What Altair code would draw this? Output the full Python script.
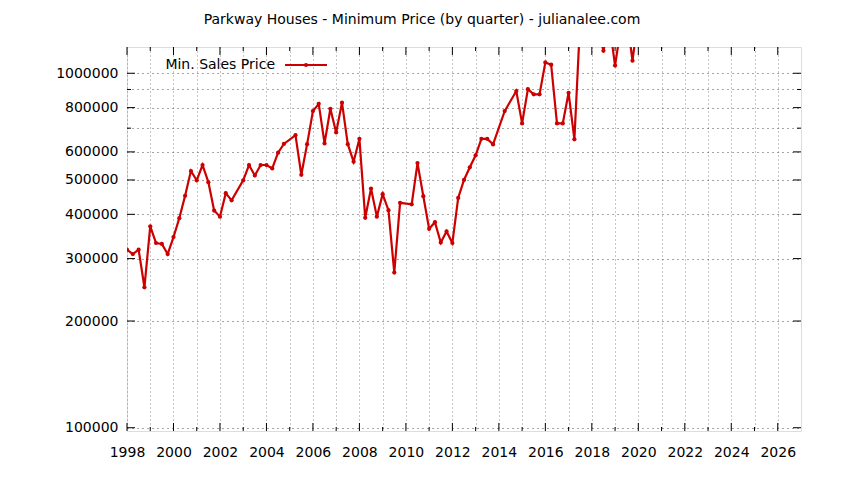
import altair as alt
import pandas as pd

# Quarterly minimum prices
years = [
    1998.0, 1998.25, 1998.5, 1998.75, 1999.0, 1999.25, 1999.5, 1999.75,
    2000.0, 2000.25, 2000.5, 2000.75, 2001.0, 2001.25, 2001.5, 2001.75,
    2002.0, 2002.25, 2002.5, 2003.0, 2003.25, 2003.5, 2003.75,
    2004.0, 2004.25, 2004.5, 2004.75, 2005.25, 2005.5, 2005.75,
    2006.0, 2006.25, 2006.5, 2006.75, 2007.0, 2007.25, 2007.5, 2007.75,
    2008.0, 2008.25, 2008.5, 2008.75, 2009.0, 2009.25, 2009.5, 2009.75,
    2010.25, 2010.5, 2010.75, 2011.0, 2011.25, 2011.5, 2011.75,
    2012.0, 2012.25, 2012.5, 2012.75, 2013.0, 2013.25, 2013.5, 2013.75,
    2014.25, 2014.75, 2015.0, 2015.25, 2015.5, 2015.75,
    2016.0, 2016.25, 2016.5, 2016.75, 2017.0, 2017.25, 2017.5, 2017.75,
    2018.0, 2018.25, 2018.5, 2018.75, 2019.0, 2019.25, 2019.5, 2019.75,
    2020.0,
]
prices = [
    318000, 309000, 318000, 249000, 370000, 332000, 330000, 309000,
    345000, 390000, 451000, 530000, 499000, 551000, 493000, 410000,
    394000, 459000, 438000, 499000, 551000, 515000, 551000,
    551000, 539000, 597000, 632000, 669000, 517000, 631000,
    782000, 820000, 634000, 794000, 681000, 826000, 631000, 563000,
    653000, 391000, 473000, 394000, 456000, 411000, 274000, 431000,
    427000, 558000, 450000, 364000, 380000, 333000, 358000,
    332000, 445000, 500000, 543000, 587000, 653000, 653000, 630000,
    782000, 891000, 722000, 902000, 872000, 872000,
    1073000, 1057000, 722000, 722000, 881000, 651000, 1416000, 1400000,
    1380000, 1350000, 1157000, 1390000, 1051000, 1350000, 1450000, 1085000,
    1450000,
]

x_grid_years = list(range(1998, 2027))
x_major_years = list(range(1998, 2027, 2))
x_minor_years = list(range(1999, 2027, 2))
y_grid_values = [100000, 200000, 300000, 400000, 500000, 600000, 700000, 800000, 900000, 1000000]
y_major_values = [100000, 200000, 300000, 400000, 500000, 600000, 800000, 1000000]
y_minor_values = [700000, 900000]

title_text = "Parkway Houses - Minimum Price (by quarter) - julianalee.com"
legend_text = "Min. Sales Price"

FONT = "DejaVu Sans"
RED = "#cc0000"
W, H = 674, 384

df = pd.DataFrame({"year": years, "price": prices})

xs = alt.Scale(domain=[1998, 2027], nice=False, zero=False)
ys = alt.Scale(type="log", domain=[97900, 1186000], nice=False)

x_axis = alt.Axis(
    values=x_grid_years, format="d", title=None,
    labelExpr="datum.value % 2 == 0 ? datum.label : ''",
    labelOverlap=False, labelFlush=False, labelBound=False,
    grid=True, gridColor="#8a8a8a", gridDash=[1, 3], gridWidth=1,
    ticks=False, tickSize=0, domain=False, labelPadding=14,
    labelFont=FONT, labelFontSize=14, labelColor="#000",
)
y_axis = alt.Axis(
    values=y_grid_values, format="d", title=None,
    labelExpr="(datum.value == 700000 || datum.value == 900000) ? '' : datum.label",
    labelOverlap=False, labelFlush=False, labelBound=False,
    grid=True, gridColor="#4a4a4a", gridDash=[1, 4], gridWidth=1,
    ticks=False, tickSize=0, domain=False, labelPadding=9,
    labelFont=FONT, labelFontSize=14, labelColor="#000",
)

X = alt.X("year:Q", scale=xs, axis=x_axis)
Y = alt.Y("price:Q", scale=ys, axis=y_axis)

base = alt.Chart(df)
line = base.mark_line(clip=True, color=RED, strokeWidth=2.2).encode(x=X, y=Y)
pts = base.mark_circle(clip=True, color=RED, size=18, opacity=1).encode(x=X, y=Y)

xmaj = pd.DataFrame({"year": x_major_years})
xmin = pd.DataFrame({"year": x_minor_years})
ymaj = pd.DataFrame({"price": y_major_values})
ymin = pd.DataFrame({"price": y_minor_values})

tick_color = "#000"
ticks = [
    alt.Chart(xmaj).mark_rule(color=tick_color).encode(x=X, y=alt.value(H), y2=alt.value(H - 8)),
    alt.Chart(xmaj).mark_rule(color=tick_color).encode(x=X, y=alt.value(0), y2=alt.value(8)),
    alt.Chart(xmin).mark_rule(color=tick_color).encode(x=X, y=alt.value(H), y2=alt.value(H - 4)),
    alt.Chart(xmin).mark_rule(color=tick_color).encode(x=X, y=alt.value(0), y2=alt.value(4)),
    alt.Chart(ymaj).mark_rule(color=tick_color).encode(y=Y, x=alt.value(0), x2=alt.value(8)),
    alt.Chart(ymaj).mark_rule(color=tick_color).encode(y=Y, x=alt.value(W), x2=alt.value(W - 8)),
    alt.Chart(ymin).mark_rule(color=tick_color).encode(y=Y, x=alt.value(0), x2=alt.value(4)),
    alt.Chart(ymin).mark_rule(color=tick_color).encode(y=Y, x=alt.value(W), x2=alt.value(W - 4)),
]

leg_df = pd.DataFrame({"label": [legend_text]})
leg_text = alt.Chart(leg_df).mark_text(
    align="right", baseline="middle", font=FONT, fontSize=14, color="#000"
).encode(x=alt.value(148), y=alt.value(18), text="label:N")
leg_line = alt.Chart(leg_df).mark_rule(color=RED, strokeWidth=2.2).encode(
    x=alt.value(158), x2=alt.value(200), y=alt.value(18))
leg_pt = alt.Chart(leg_df).mark_circle(color=RED, size=18, opacity=1).encode(
    x=alt.value(179), y=alt.value(18))

chart = alt.layer(*ticks, line, pts, leg_line, leg_pt, leg_text).properties(
    width=W, height=H,
    title=alt.TitleParams(title_text, font=FONT, fontSize=14, fontWeight="normal",
                          color="#000", anchor="middle", dx=-42, offset=20),
    autosize=alt.AutoSizeParams(type="none"),
    padding={"left": 119, "top": 39, "right": 35, "bottom": 41},
).configure_view(stroke="#000", strokeWidth=1).configure(background="white")

chart.save("out.html", embed_options={"renderer": "svg", "actions": False})
